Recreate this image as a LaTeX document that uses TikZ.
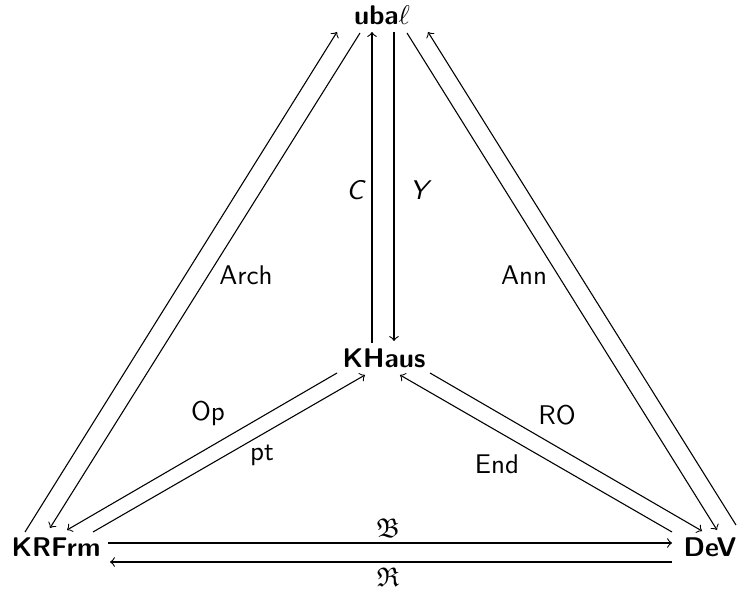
\documentclass[tikz,border=0pt]{standalone}
\usepackage{amsfonts}
\begin{document}
\begin{tikzpicture}[x=0.37pt,y=-0.37pt,
  obj/.style={font=\sffamily\bfseries, inner sep=0pt},
  lbl/.style={font=\sffamily, inner sep=0pt},
  arr/.style={->, >=to}]
\useasboundingbox (0,0) rectangle (742,597);
% objects
\node[obj] (U) at (382,15) {uba$\ell$};
\node[obj] (K) at (384,358) {KHaus};
\node[obj] (F) at (56,547) {KRFrm};
\node[obj] (D) at (710,547) {DeV};
% labels
\node[lbl] (lArch) at (246,275) {Arch};
\node[lbl] (lAnn) at (524,275) {Ann};
\node[lbl] (lC) at (355,190) {\itshape C};
\node[lbl] (lY) at (419,190) {\itshape Y};
\node[lbl] (lOp) at (208,413) {Op};
\node[lbl] (lpt) at (262,455) {pt};
\node[lbl] (lRO) at (557,415) {RO};
\node[lbl] (lEnd) at (497,464) {End};
\node[lbl] (lB) at (388,528) {$\mathfrak{B}$};
\node[lbl] (lR) at (388,577) {$\mathfrak{R}$};
% left outer pair
\draw[arr] ([shift={(-31,-15)}]F.center) -- ([shift={(-45,17)}]U.center);
\draw[arr] ([shift={(-22,18)}]U.center) -- ([shift={(-6,-19)}]F.center);
% vertical pair
\draw[arr] ([shift={(-12,-15)}]K.center) -- ([shift={(-10,17)}]U.center);
\draw[arr] ([shift={(12,17)}]U.center) -- ([shift={(10,-17)}]K.center);
% right outer pair
\draw[arr] ([shift={(25,18)}]U.center) -- ([shift={(7,-17)}]D.center);
\draw[arr] ([shift={(26,-22)}]D.center) -- ([shift={(46,17)}]U.center);
% KHaus - KRFrm
\draw[arr] ([shift={(-47,15)}]K.center) -- ([shift={(11,-17)}]F.center);
\draw[arr] ([shift={(37,-15)}]F.center) -- ([shift={(-19,17)}]K.center);
% KHaus - DeV
\draw[arr] ([shift={(46,15)}]K.center) -- ([shift={(-8,-16)}]D.center);
\draw[arr] ([shift={(-38,-15)}]D.center) -- ([shift={(16,17)}]K.center);
% bottom pair
\draw[arr] ([shift={(52,-4)}]F.center) -- ([shift={(-38,-4)}]D.center);
\draw[arr] ([shift={(-38,15)}]D.center) -- ([shift={(54,15)}]F.center);
\end{tikzpicture}
\end{document}
